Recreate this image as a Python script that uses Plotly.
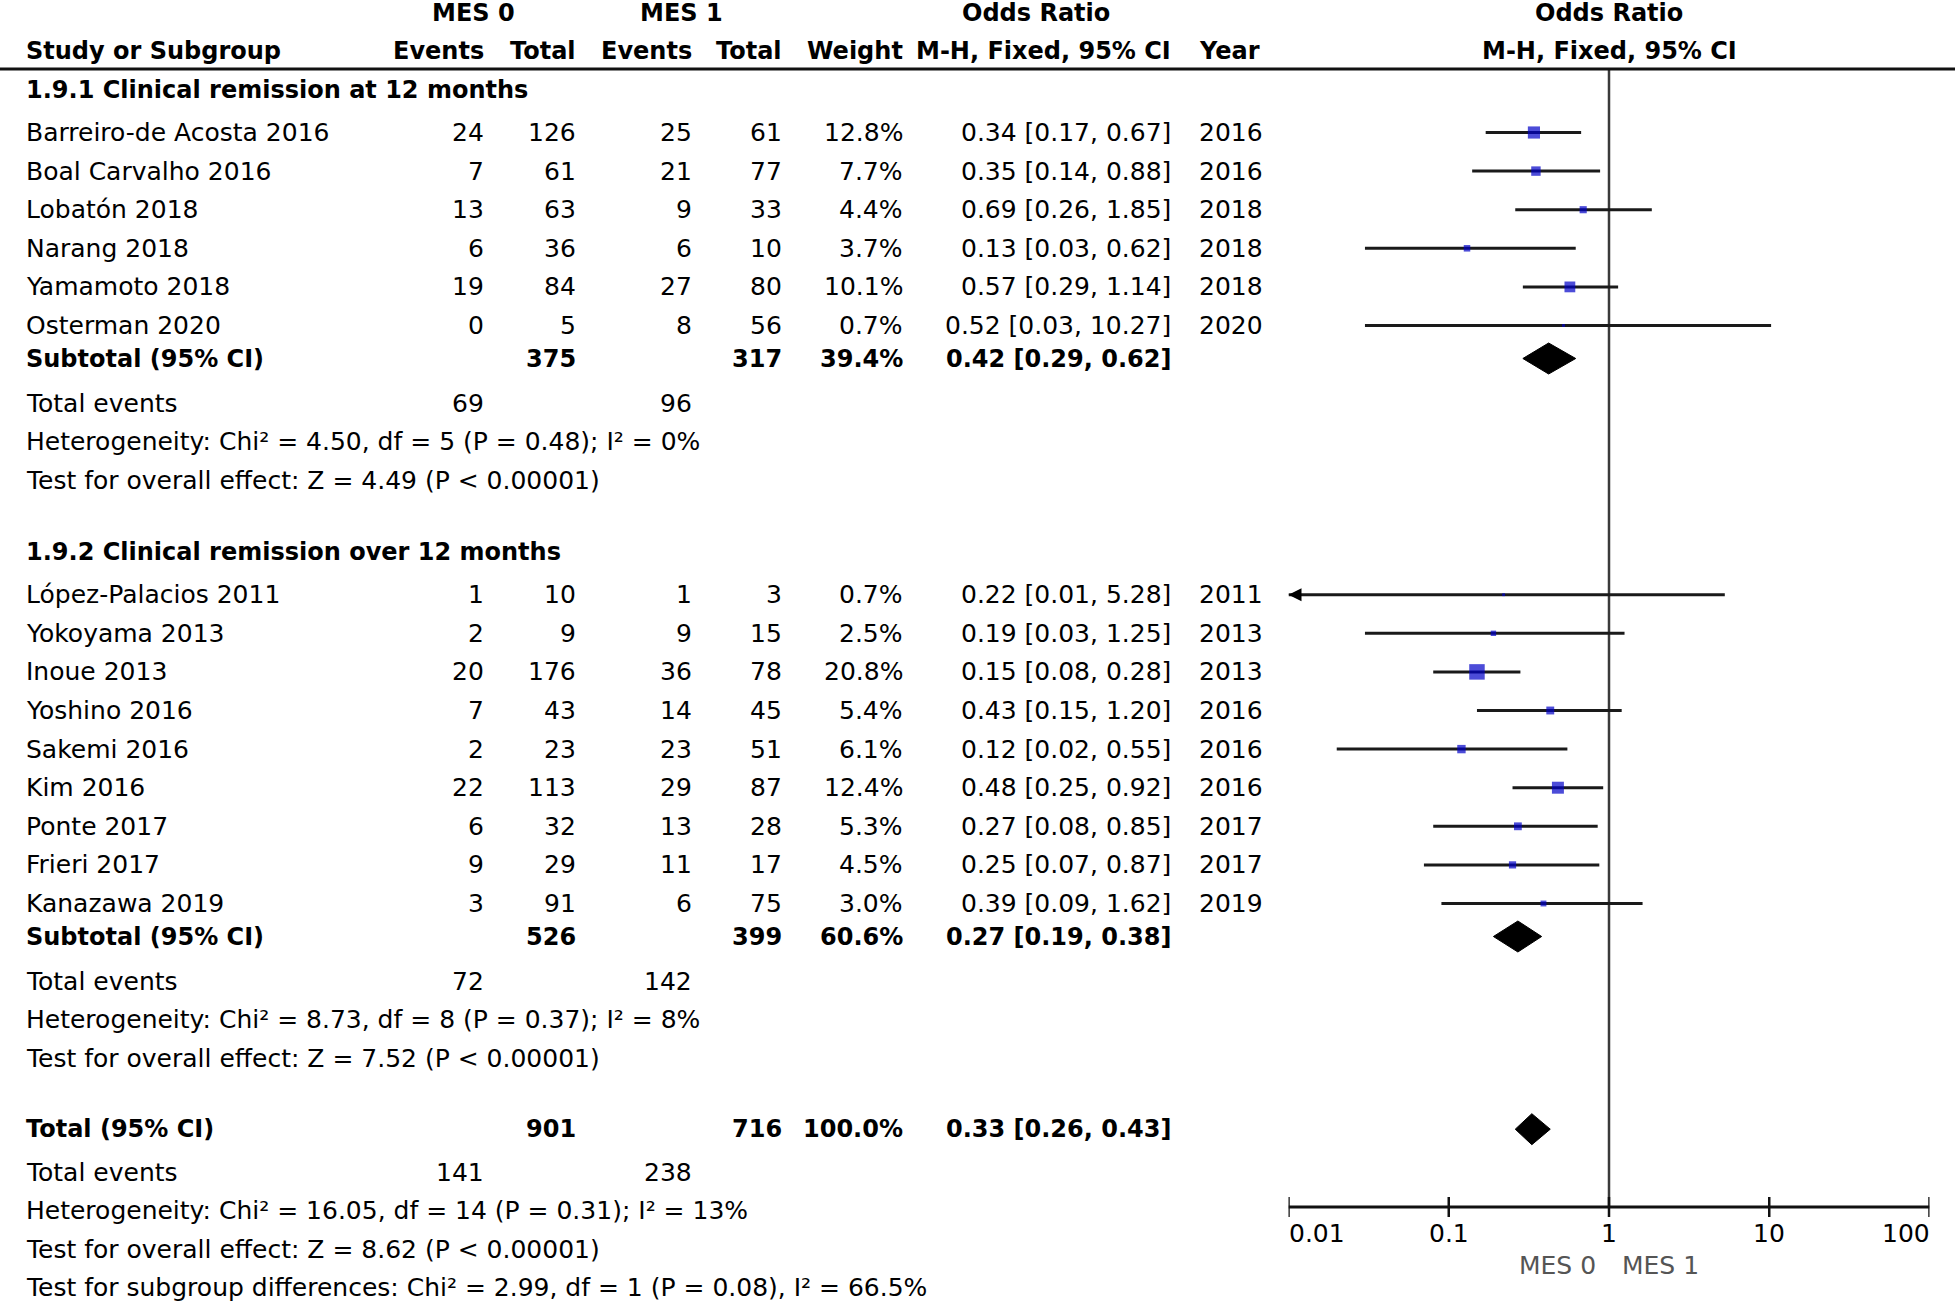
import math
import plotly.graph_objects as go

# ---------------- data ----------------
G1_TITLE = "1.9.1 Clinical remission at 12 months"
G1_STUDIES = ["Barreiro-de Acosta 2016", "Boal Carvalho 2016", "Lobatón 2018",
              "Narang 2018", "Yamamoto 2018", "Osterman 2020"]
G1_EV0 = [24, 7, 13, 6, 19, 0]
G1_TOT0 = [126, 61, 63, 36, 84, 5]
G1_EV1 = [25, 21, 9, 6, 27, 8]
G1_TOT1 = [61, 77, 33, 10, 80, 56]
G1_WEIGHT = [12.8, 7.7, 4.4, 3.7, 10.1, 0.7]
G1_OR = [0.34, 0.35, 0.69, 0.13, 0.57, 0.52]
G1_LO = [0.17, 0.14, 0.26, 0.03, 0.29, 0.03]
G1_HI = [0.67, 0.88, 1.85, 0.62, 1.14, 10.27]
G1_YEAR = [2016, 2016, 2018, 2018, 2018, 2020]
G1_SUB = dict(tot0=375, tot1=317, weight="39.4%", est=0.42, lo=0.29, hi=0.62)
G1_EVENTS = [69, 96]
G1_HET = "Heterogeneity: Chi² = 4.50, df = 5 (P = 0.48); I² = 0%"
G1_TEST = "Test for overall effect: Z = 4.49 (P &lt; 0.00001)"

G2_TITLE = "1.9.2 Clinical remission over 12 months"
G2_STUDIES = ["López-Palacios 2011", "Yokoyama 2013", "Inoue 2013", "Yoshino 2016",
              "Sakemi 2016", "Kim 2016", "Ponte 2017", "Frieri 2017", "Kanazawa 2019"]
G2_EV0 = [1, 2, 20, 7, 2, 22, 6, 9, 3]
G2_TOT0 = [10, 9, 176, 43, 23, 113, 32, 29, 91]
G2_EV1 = [1, 9, 36, 14, 23, 29, 13, 11, 6]
G2_TOT1 = [3, 15, 78, 45, 51, 87, 28, 17, 75]
G2_WEIGHT = [0.7, 2.5, 20.8, 5.4, 6.1, 12.4, 5.3, 4.5, 3.0]
G2_OR = [0.22, 0.19, 0.15, 0.43, 0.12, 0.48, 0.27, 0.25, 0.39]
G2_LO = [0.01, 0.03, 0.08, 0.15, 0.02, 0.25, 0.08, 0.07, 0.09]
G2_HI = [5.28, 1.25, 0.28, 1.20, 0.55, 0.92, 0.85, 0.87, 1.62]
G2_YEAR = [2011, 2013, 2013, 2016, 2016, 2016, 2017, 2017, 2019]
G2_SUB = dict(tot0=526, tot1=399, weight="60.6%", est=0.27, lo=0.19, hi=0.38)
G2_EVENTS = [72, 142]
G2_HET = "Heterogeneity: Chi² = 8.73, df = 8 (P = 0.37); I² = 8%"
G2_TEST = "Test for overall effect: Z = 7.52 (P &lt; 0.00001)"

TOTAL = dict(tot0=901, tot1=716, weight="100.0%", est=0.33, lo=0.26, hi=0.43)
TOTAL_EVENTS = [141, 238]
TOTAL_HET = "Heterogeneity: Chi² = 16.05, df = 14 (P = 0.31); I² = 13%"
TOTAL_TEST = "Test for overall effect: Z = 8.62 (P &lt; 0.00001)"
SUBGROUP_TEST = "Test for subgroup differences: Chi² = 2.99, df = 1 (P = 0.08), I² = 66.5%"

TICK_VALUES = [0.01, 0.1, 1, 10, 100]
TICK_LABELS = ["0.01", "0.1", "1", "10", "100"]
FAVOURS = ["MES 0", "MES 1"]

# ---------------- layout constants (page pixels) ----------------
FIG_W, FIG_H = 1955, 1303
FONT = "DejaVu Sans"
FS = 25
FS_B = 24
X_NAME, X_EV0, X_TOT0, X_EV1, X_TOT1, X_W, X_OR, X_YEAR = 26, 484, 576, 692, 782, 903, 1171, 1199
PLOT_X0, PLOT_X1 = 1288.5, 1929.5
ROW = 38.6
AXIS_Y = 1207
TICK_HALF = 10
DIAMOND_H = 31
BLUE = "rgb(0,0,200)"
LINE = "#1a1a1a"

ann = []
traces = []


def txt(s, xpx, ypx, anchor="left", bold=False, color="#000", size=None):
    if size is None:
        size = FS_B if bold else FS
    ann.append(dict(text=(f"<b>{s}</b>" if bold else s), x=xpx / FIG_W, xref="paper",
                    y=ypx, yref="y", xanchor=anchor, yanchor="middle", showarrow=False,
                    borderpad=0, borderwidth=0,
                    font=dict(family=FONT, size=size, color=color)))


def fmt_ci(est, lo, hi):
    return f"{est:.2f} [{lo:.2f}, {hi:.2f}]"


def diamond(est, lo, hi, y):
    traces.append(go.Scatter(x=[lo, est, hi, est, lo],
                             y=[y, y - DIAMOND_H / 2, y, y + DIAMOND_H / 2, y],
                             mode="lines", fill="toself", fillcolor="#000",
                             line=dict(color="#000", width=1), hoverinfo="skip",
                             showlegend=False, cliponaxis=False))


# headers
HDR1, HDR2, RULE_Y = 13, 51, 69
txt("MES 0", 473, HDR1, "center", True)
txt("MES 1", 681, HDR1, "center", True)
txt("Odds Ratio", 1036, HDR1, "center", True)
txt("Study or Subgroup", X_NAME, HDR2, "left", True)
txt("Events", X_EV0, HDR2, "right", True)
txt("Total", X_TOT0, HDR2, "right", True)
txt("Events", X_EV1, HDR2, "right", True)
txt("Total", X_TOT1, HDR2, "right", True)
txt("Weight", X_W, HDR2, "right", True)
txt("M-H, Fixed, 95% CI", X_OR, HDR2, "right", True)
txt("Year", X_YEAR, HDR2, "left", True)

# rows
ci_x, ci_y = [], []
mk_x, mk_y, mk_s = [], [], []
arrow_x, arrow_y = [], []

groups = [
    (G1_TITLE, G1_STUDIES, G1_EV0, G1_TOT0, G1_EV1, G1_TOT1, G1_WEIGHT, G1_OR, G1_LO, G1_HI,
     G1_YEAR, G1_SUB, G1_EVENTS, G1_HET, G1_TEST),
    (G2_TITLE, G2_STUDIES, G2_EV0, G2_TOT0, G2_EV1, G2_TOT1, G2_WEIGHT, G2_OR, G2_LO, G2_HI,
     G2_YEAR, G2_SUB, G2_EVENTS, G2_HET, G2_TEST),
]

y = 90.0
for gi, (title, names, ev0, tot0, ev1, tot1, wt, est, lo, hi, yr, sub, evs, het, test) in enumerate(groups):
    if gi > 0:
        y += 72
    txt(title, X_NAME, y, "left", True)
    y += 42.5
    for i in range(len(names)):
        if i > 0:
            y += ROW
        txt(names[i], X_NAME, y)
        txt(str(ev0[i]), X_EV0, y, "right")
        txt(str(tot0[i]), X_TOT0, y, "right")
        txt(str(ev1[i]), X_EV1, y, "right")
        txt(str(tot1[i]), X_TOT1, y, "right")
        txt(f"{wt[i]:.1f}%", X_W, y, "right")
        txt(fmt_ci(est[i], lo[i], hi[i]), X_OR, y, "right")
        txt(str(yr[i]), X_YEAR, y, "left")
        lo_draw = max(lo[i], TICK_VALUES[0])
        ci_x += [lo_draw, min(hi[i], TICK_VALUES[-1]), None]
        ci_y += [y, y, None]
        if lo[i] <= TICK_VALUES[0]:
            arrow_x.append(TICK_VALUES[0])
            arrow_y.append(y)
        mk_x.append(est[i])
        mk_y.append(y)
        mk_s.append(3.4 * math.sqrt(wt[i]))
    y += 33
    txt("Subtotal (95% CI)", X_NAME, y, "left", True)
    txt(str(sub["tot0"]), X_TOT0, y, "right", True)
    txt(str(sub["tot1"]), X_TOT1, y, "right", True)
    txt(sub["weight"], X_W, y, "right", True)
    txt(fmt_ci(sub["est"], sub["lo"], sub["hi"]), X_OR, y, "right", True)
    diamond(sub["est"], sub["lo"], sub["hi"], y)
    y += 44.5
    txt("Total events", X_NAME, y)
    txt(str(evs[0]), X_EV0, y, "right")
    txt(str(evs[1]), X_EV1, y, "right")
    y += ROW
    txt(het, X_NAME, y)
    y += ROW
    txt(test, X_NAME, y)

y += 71
txt("Total (95% CI)", X_NAME, y, "left", True)
txt(str(TOTAL["tot0"]), X_TOT0, y, "right", True)
txt(str(TOTAL["tot1"]), X_TOT1, y, "right", True)
txt(TOTAL["weight"], X_W, y, "right", True)
txt(fmt_ci(TOTAL["est"], TOTAL["lo"], TOTAL["hi"]), X_OR, y, "right", True)
diamond(TOTAL["est"], TOTAL["lo"], TOTAL["hi"], y)
y += 43
txt("Total events", X_NAME, y)
txt(str(TOTAL_EVENTS[0]), X_EV0, y, "right")
txt(str(TOTAL_EVENTS[1]), X_EV1, y, "right")
y += ROW
txt(TOTAL_HET, X_NAME, y)
y += ROW
txt(TOTAL_TEST, X_NAME, y)
y += ROW - 1
txt(SUBGROUP_TEST, X_NAME, y)

# forest header (centered on line of no effect)
mid_px = PLOT_X0 + (PLOT_X1 - PLOT_X0) / 2
txt("Odds Ratio", mid_px, HDR1, "center", True)
txt("M-H, Fixed, 95% CI", mid_px, HDR2, "center", True)

# line of no effect
traces.append(go.Scatter(x=[1, 1], y=[RULE_Y, AXIS_Y], mode="lines",
                         line=dict(color="#3a3a3a", width=2.5), hoverinfo="skip",
                         showlegend=False, cliponaxis=False))
# CI lines
traces.append(go.Scatter(x=ci_x, y=ci_y, mode="lines", line=dict(color=LINE, width=3),
                         hoverinfo="skip", showlegend=False, cliponaxis=False))
# arrows for truncated CIs
traces.append(go.Scatter(x=arrow_x, y=arrow_y, mode="markers",
                         marker=dict(symbol="arrow-left", size=13, color="#000"),
                         hoverinfo="skip", showlegend=False, cliponaxis=False))
# study squares
traces.append(go.Scatter(x=mk_x, y=mk_y, mode="markers",
                         marker=dict(symbol="square", size=mk_s, color=BLUE,
                                     line=dict(width=0)),
                         hoverinfo="skip", showlegend=False, cliponaxis=False))
# axis line and ticks
traces.append(go.Scatter(x=[TICK_VALUES[0], TICK_VALUES[-1]], y=[AXIS_Y, AXIS_Y], mode="lines",
                         line=dict(color="#111", width=3), hoverinfo="skip",
                         showlegend=False, cliponaxis=False))
tx, ty = [], []
for t in TICK_VALUES:
    tx += [t, t, None]
    ty += [AXIS_Y - TICK_HALF, AXIS_Y + TICK_HALF, None]
traces.append(go.Scatter(x=tx, y=ty, mode="lines", line=dict(color="#111", width=2.5),
                         hoverinfo="skip", showlegend=False, cliponaxis=False))

for i, (t, lab) in enumerate(zip(TICK_VALUES, TICK_LABELS)):
    anchor = "left" if i == 0 else ("right" if i == len(TICK_VALUES) - 1 else "center")
    ann.append(dict(text=lab, x=math.log10(t), xref="x", y=AXIS_Y + 26, yref="y",
                    xanchor=anchor, yanchor="middle", showarrow=False,
                    borderpad=0, borderwidth=0,
                    font=dict(family=FONT, size=FS, color="#000")))

ann.append(dict(text=FAVOURS[0], x=0, xref="x", xshift=-13, y=AXIS_Y + 58, yref="y",
                xanchor="right", yanchor="middle", showarrow=False,
                borderpad=0, borderwidth=0,
                font=dict(family=FONT, size=FS, color="#555")))
ann.append(dict(text=FAVOURS[1], x=0, xref="x", xshift=13, y=AXIS_Y + 58, yref="y",
                xanchor="left", yanchor="middle", showarrow=False,
                borderpad=0, borderwidth=0,
                font=dict(family=FONT, size=FS, color="#555")))

fig = go.Figure(traces)
fig.update_layout(
    width=FIG_W, height=FIG_H, margin=dict(l=0, r=0, t=0, b=0),
    paper_bgcolor="white", plot_bgcolor="white", showlegend=False,
    xaxis=dict(type="log", range=[-2, 2],
               domain=[PLOT_X0 / FIG_W, PLOT_X1 / FIG_W],
               visible=False, fixedrange=True),
    # y data units equal page pixels
    yaxis=dict(range=[FIG_H, 0], domain=[0, 1], visible=False, fixedrange=True),
    annotations=ann,
    shapes=[dict(type="line", xref="paper", yref="y", x0=0, x1=1, y0=RULE_Y, y1=RULE_Y,
                 line=dict(color="#111", width=3))],
)
fig.write_html("out.html", config={"displayModeBar": False},
               post_script="document.body.style.margin='0';document.body.style.overflow='hidden';")
